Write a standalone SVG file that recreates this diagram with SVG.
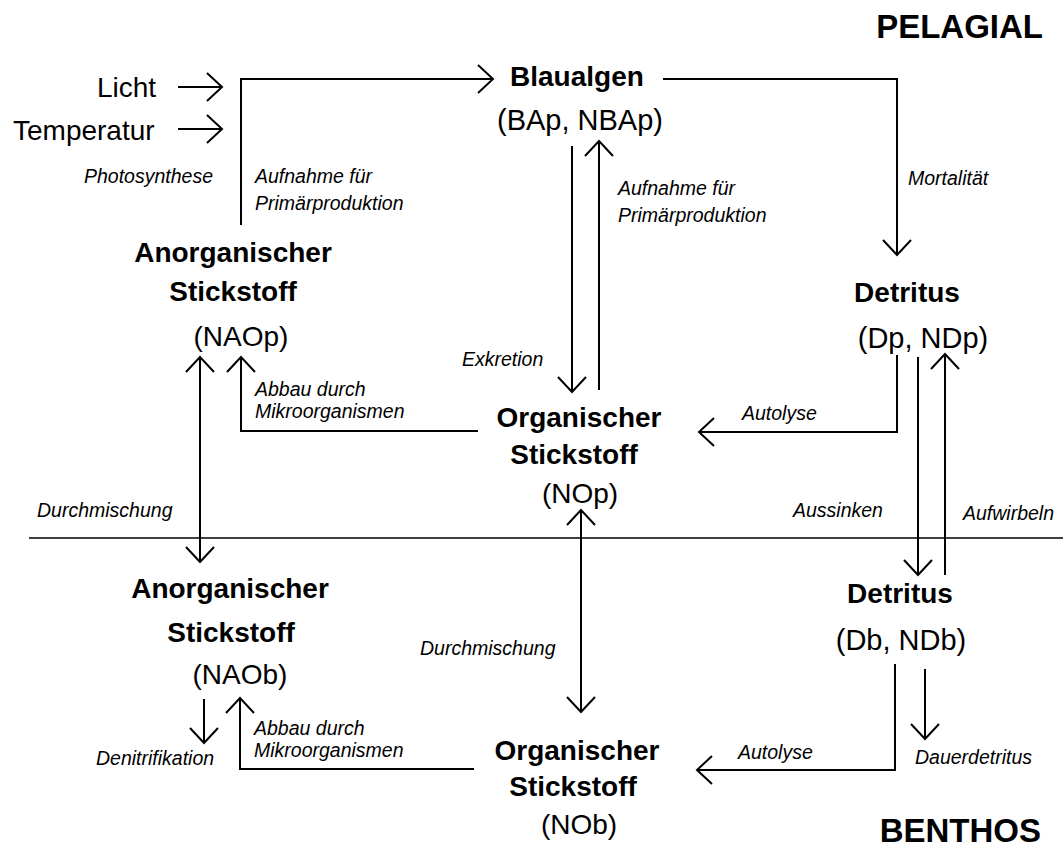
<svg xmlns="http://www.w3.org/2000/svg" width="1063" height="857" viewBox="0 0 1063 857">
<style>
text{font-family:"Liberation Sans",Arial,sans-serif;fill:#000}
.r{font-size:28px}
.b{font-size:28px;font-weight:bold}
.h{font-size:33px;font-weight:bold}
.i{font-size:19.5px;font-style:italic}
.c{text-anchor:middle}
.e{text-anchor:end}
.ln{fill:none;stroke:#000;stroke-width:2}
.a{marker-end:url(#ah)}
.aa{marker-start:url(#ah);marker-end:url(#ah)}
</style>
<defs>
<marker id="ah" markerUnits="userSpaceOnUse" orient="auto-start-reverse" overflow="visible" markerWidth="20" markerHeight="20" refX="0" refY="0">
<path d="M-15,-14 L0,0 L-15,14" fill="none" stroke="#000" stroke-width="2"/>
</marker>
</defs>
<rect width="1063" height="857" fill="#fff"/>
<g id="connectors">
<line class="ln" x1="29" y1="538" x2="1063" y2="538" style="stroke-width:1.5"/>
<path class="ln a" d="M178,87 H222"/>
<path class="ln a" d="M178,129 H222"/>
<path class="ln a" d="M241,225 V79 H493"/>
<path class="ln a" d="M663,79 H897 V255"/>
<path class="ln a" d="M572,146 V392"/>
<path class="ln a" d="M599,390 V141"/>
<path class="ln a" d="M897,355 V432 H699"/>
<path class="ln a" d="M918,357 V575"/>
<path class="ln a" d="M945,575 V354"/>
<path class="ln a" d="M478,431 H241 V357"/>
<path class="ln aa" d="M200,357 V562"/>
<path class="ln aa" d="M581,510 V712"/>
<path class="ln a" d="M895,664 V770 H697"/>
<path class="ln a" d="M925,669 V739"/>
<path class="ln a" d="M204,699 V743"/>
<path class="ln a" d="M474,769 H240 V698"/>
</g>
<g id="labels">
<text class="h e" x="1043" y="38">PELAGIAL</text>
<text class="h e" x="1041" y="842">BENTHOS</text>
<text class="i e" x="213" y="183">Photosynthese</text>
<text class="i" x="255" y="183">Aufnahme für</text>
<text class="i" x="255" y="210">Primärproduktion</text>
<text class="i" x="618" y="195">Aufnahme für</text>
<text class="i" x="618" y="222">Primärproduktion</text>
<text class="i" x="908" y="185">Mortalität</text>
<text class="i" x="462" y="366">Exkretion</text>
<text class="i" x="255" y="396">Abbau durch</text>
<text class="i" x="255" y="418">Mikroorganismen</text>
<text class="i" x="742" y="420">Autolyse</text>
<text class="i" x="37" y="517">Durchmischung</text>
<text class="i" x="793" y="517">Aussinken</text>
<text class="i" x="963" y="520">Aufwirbeln</text>
<text class="i" x="420" y="655">Durchmischung</text>
<text class="i" x="254" y="735">Abbau durch</text>
<text class="i" x="254" y="757">Mikroorganismen</text>
<text class="i" x="96" y="765">Denitrifikation</text>
<text class="i" x="738" y="759">Autolyse</text>
<text class="i" x="915" y="764">Dauerdetritus</text>
</g>
<g id="licht"><text class="r" x="97" y="97">Licht</text></g>
<g id="temperatur"><text class="r" x="13" y="140">Temperatur</text></g>
<g id="blaualgen">
<text class="b" x="510" y="86">Blaualgen</text>
<text class="r" x="497" y="130" style="font-size:29px">(BAp, NBAp)</text>
</g>
<g id="nao-p">
<text class="b c" x="233" y="262">Anorganischer</text>
<text class="b c" x="233" y="301">Stickstoff</text>
<text class="r c" x="241" y="346">(NAOp)</text>
</g>
<g id="detritus-p">
<text class="b c" x="907" y="302">Detritus</text>
<text class="r c" x="923" y="348" style="font-size:29px">(Dp, NDp)</text>
</g>
<g id="no-p">
<text class="b c" x="579" y="427">Organischer</text>
<text class="b c" x="574" y="464">Stickstoff</text>
<text class="r c" x="580" y="503">(NOp)</text>
</g>
<g id="nao-b">
<text class="b c" x="230" y="598">Anorganischer</text>
<text class="b c" x="231" y="642">Stickstoff</text>
<text class="r c" x="240" y="684">(NAOb)</text>
</g>
<g id="detritus-b">
<text class="b c" x="900" y="603">Detritus</text>
<text class="r c" x="901" y="650" style="font-size:29px">(Db, NDb)</text>
</g>
<g id="no-b">
<text class="b c" x="577" y="760">Organischer</text>
<text class="b c" x="573" y="796">Stickstoff</text>
<text class="r c" x="579" y="834">(NOb)</text>
</g>
</svg>
